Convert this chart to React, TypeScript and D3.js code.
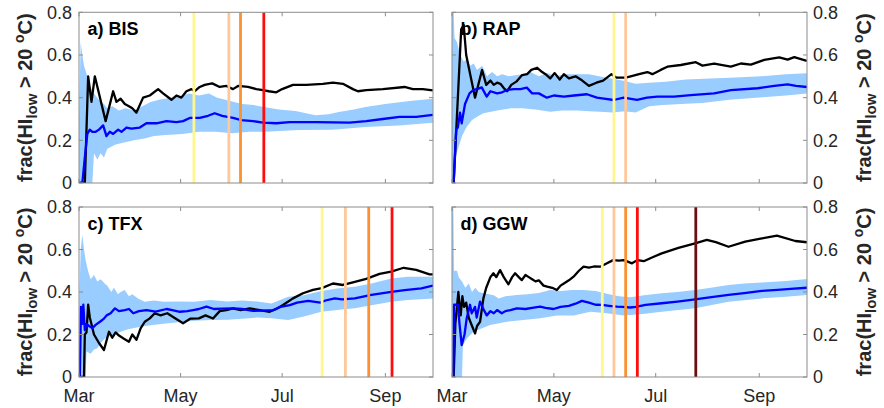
import React from 'react';
import * as d3 from 'd3';

type P = [number, number];

// ---- axis / labels ----
const monthLabels = ['Mar', 'May', 'Jul', 'Sep'];
const monthDays = [0, 61, 122, 184]; // days since 1 Mar
const yTicks = [0, 0.2, 0.4, 0.6, 0.8];
const yTickLabels = ['0', '0.2', '0.4', '0.6', '0.8'];
const panelTitles = ['a) BIS', 'b) RAP', 'c) TFX', 'd) GGW'];
const markerColors = ['#fff68f', '#ffc89b', '#fb9130', '#ff0d0d', '#6b1010'];

// ---- a) BIS ----
const bisObs: P[] = [[0,0],[3.5,0],[5.5,0.50],[7.5,0.38],[9.5,0.50],[16,0.29],[20.5,0.43],[22.5,0.38],[25,0.395],[27.5,0.37],[30,0.36],[32,0.35],[34.5,0.33],[38.5,0.40],[42.5,0.41],[47.5,0.44],[50.5,0.42],[55.5,0.39],[58.5,0.41],[61.5,0.40],[64.5,0.43],[67.5,0.44],[69.5,0.43],[72.5,0.45],[75.5,0.46],[80,0.467],[84.5,0.45],[88.5,0.455],[92.5,0.44],[95.5,0.455],[101.5,0.45],[106.5,0.44],[110.5,0.435],[114,0.43],[118.5,0.425],[122,0.44],[128.5,0.46],[136.5,0.46],[146.5,0.465],[152.5,0.47],[158.5,0.465],[164.5,0.44],[167.5,0.43],[172.5,0.435],[182.5,0.44],[195.5,0.45],[200.5,0.44],[206.5,0.44],[212.5,0.434]];
const bisMean: P[] = [[0,0],[2,0],[3.5,0.12],[5,0.23],[6.5,0.25],[8,0.24],[10,0.24],[12,0.25],[14.5,0.27],[16.5,0.22],[18.5,0.24],[20.5,0.23],[23.5,0.25],[25.5,0.24],[28.5,0.26],[31.5,0.255],[36.5,0.26],[40.5,0.28],[46.5,0.28],[52.5,0.29],[58.5,0.285],[62.5,0.29],[66.5,0.305],[72.5,0.305],[77.5,0.315],[81.5,0.327],[86,0.315],[92.5,0.305],[97.5,0.295],[104.5,0.29],[110.5,0.283],[118.5,0.28],[126.5,0.285],[142.5,0.285],[162.5,0.283],[172.5,0.29],[182.5,0.3],[192.5,0.31],[202.5,0.31],[212.5,0.319]];
const bisHi: P[] = [[0,0.3],[1,0.66],[2,0.6],[3,0.55],[5,0.5],[7,0.45],[9,0.42],[11,0.40],[13,0.38],[15,0.37],[17,0.35],[20,0.36],[24,0.34],[28,0.35],[33,0.34],[38,0.36],[43,0.38],[48,0.39],[55,0.40],[62,0.41],[66,0.42],[72,0.41],[78,0.42],[83,0.40],[88,0.39],[93,0.38],[98,0.37],[105,0.365],[112,0.355],[120,0.345],[130,0.338],[142,0.318],[150,0.322],[156,0.333],[165,0.345],[172,0.356],[185,0.372],[200,0.385],[212.5,0.395]];
const bisLo: P[] = [[0,0],[8,0],[9,0.14],[11,0.11],[13,0.14],[15,0.12],[17,0.16],[22,0.18],[27,0.19],[33,0.2],[40,0.21],[45,0.22],[52,0.225],[62,0.23],[72,0.24],[82,0.24],[92,0.233],[102,0.24],[112,0.24],[132,0.248],[152,0.25],[172,0.262],[192,0.27],[212.5,0.282]];
const bisMarkers = [69, 90, 97, 111];

// ---- b) RAP ----
const rapObs: P[] = [[0,0],[1,0],[5.5,0.72],[7,0.74],[8.5,0.6],[13.8,0.40],[18,0.53],[20.5,0.46],[23,0.48],[25,0.46],[27,0.47],[29,0.465],[31,0.445],[33,0.43],[35.5,0.46],[38.5,0.475],[42,0.506],[45,0.51],[47.5,0.53],[51,0.54],[54,0.52],[56,0.51],[58.8,0.49],[61.5,0.515],[64.5,0.485],[67,0.51],[70,0.49],[74,0.50],[78,0.48],[82,0.455],[86.5,0.47],[90.5,0.48],[95.5,0.51],[98.5,0.494],[104,0.494],[107,0.50],[112,0.51],[117,0.52],[120,0.51],[125,0.53],[129,0.545],[137,0.553],[146,0.566],[150,0.55],[157,0.56],[167,0.545],[173,0.56],[179,0.555],[187,0.577],[196,0.589],[201,0.578],[205,0.59],[212.5,0.572]];
const rapMean: P[] = [[0,0],[1,0],[2.5,0.25],[3.5,0.26],[4.8,0.33],[5.8,0.28],[7.8,0.37],[10.5,0.42],[12.8,0.436],[15,0.44],[17.8,0.448],[20.8,0.405],[23,0.43],[27,0.42],[30,0.425],[33,0.436],[37,0.44],[41,0.44],[44.8,0.447],[48,0.42],[52,0.42],[56.8,0.40],[61,0.41],[67,0.405],[73,0.41],[80.8,0.416],[86.8,0.40],[91,0.395],[96.8,0.389],[102.8,0.40],[110.8,0.39],[116.8,0.40],[123,0.405],[133,0.405],[143,0.412],[157,0.42],[167,0.435],[183,0.444],[193,0.455],[201,0.4625],[206,0.455],[212.5,0.45]];
const rapHi: P[] = [[0,0.8],[1,0.8],[1.5,0.68],[3,0.66],[5,0.6],[7,0.57],[9,0.58],[11,0.55],[13,0.56],[15,0.53],[18,0.55],[21,0.5],[24,0.52],[27,0.5],[30,0.51],[34,0.5],[38,0.505],[42,0.51],[47,0.52],[52,0.5],[57,0.515],[62,0.5],[68,0.51],[75,0.51],[82,0.51],[88,0.5],[95,0.49],[102,0.48],[110,0.465],[118,0.47],[128,0.475],[140,0.485],[155,0.49],[170,0.495],[185,0.5],[200,0.51],[212.5,0.514]];
const rapLo: P[] = [[0,0],[1.2,0],[2,0.12],[4,0.17],[6,0.22],[8.8,0.264],[12,0.295],[15,0.31],[18.8,0.327],[24,0.335],[28.8,0.342],[35,0.35],[42,0.35],[50,0.345],[58.8,0.334],[66,0.34],[75,0.34],[82,0.336],[88.8,0.334],[96,0.33],[102,0.335],[106,0.334],[110,0.33],[118,0.36],[126,0.366],[140,0.372],[150,0.375],[166,0.39],[186,0.402],[200,0.41],[212.5,0.42]];
const rapMarkers = [97, 104];

// ---- c) TFX ----
const tfxObs: P[] = [[0,0],[3,0],[3.5,0.2],[4.5,0.21],[5.5,0.34],[6.5,0.28],[9,0.2],[12,0.16],[15,0.127],[18,0.213],[20,0.185],[22,0.21],[24,0.195],[27,0.18],[30,0.166],[32,0.2],[34.5,0.175],[37,0.229],[39.5,0.26],[42.5,0.276],[45.5,0.30],[49,0.29],[53,0.30],[57,0.28],[62.5,0.253],[67,0.275],[72,0.276],[76,0.29],[80.5,0.275],[84.5,0.31],[88.5,0.315],[92.5,0.323],[97,0.315],[102.5,0.323],[108.5,0.315],[114.5,0.307],[118.5,0.32],[122.5,0.339],[128.5,0.37],[134.5,0.394],[140.5,0.41],[145.8,0.418],[152.5,0.44],[158.5,0.433],[164.5,0.445],[172.5,0.462],[180.5,0.485],[187.5,0.496],[195,0.514],[202.5,0.504],[210.5,0.483],[212.5,0.483]];
const tfxMean: P[] = [[0,0],[0.5,0],[1.2,0.33],[2,0.25],[2.6,0.34],[3.5,0.22],[4.5,0.25],[6,0.24],[8,0.23],[10,0.245],[12.6,0.26],[15,0.275],[16.6,0.29],[19,0.30],[21.6,0.323],[24,0.31],[27.5,0.315],[30,0.32],[32.6,0.30],[36,0.31],[40.6,0.315],[46,0.308],[52.6,0.32],[56,0.315],[60.6,0.307],[65,0.31],[68.6,0.315],[72,0.32],[76.6,0.331],[81,0.32],[86,0.322],[92.6,0.323],[98,0.32],[104.6,0.311],[110,0.312],[116.6,0.315],[121,0.33],[126.6,0.338],[131,0.35],[137.6,0.358],[145,0.35],[148,0.36],[153.6,0.37],[158,0.365],[165.6,0.37],[175.6,0.386],[187.6,0.401],[195.6,0.409],[205.6,0.417],[212.6,0.43]];
const tfxHi: P[] = [[0,0.3],[1,0.6],[2,0.668],[3,0.6],[4,0.55],[5.4,0.5],[7,0.46],[9,0.48],[11,0.45],[13,0.46],[15.4,0.44],[17,0.43],[19.4,0.40],[21,0.42],[23.4,0.39],[25,0.4],[27.4,0.41],[30,0.38],[32,0.39],[35.4,0.37],[39.4,0.354],[45,0.36],[51,0.354],[60,0.355],[69,0.354],[79,0.362],[89,0.355],[98,0.36],[107,0.355],[115.6,0.346],[125.6,0.378],[135,0.385],[145.6,0.405],[155,0.417],[165.6,0.425],[175.6,0.44],[187.6,0.464],[197.6,0.472],[212.6,0.472]];
const tfxLo: P[] = [[0,0],[4,0],[4.5,0.12],[7,0.11],[9,0.13],[11,0.135],[13,0.16],[15.4,0.18],[19.4,0.195],[24,0.21],[29.4,0.225],[39.4,0.24],[49.4,0.25],[59.4,0.258],[69.4,0.265],[79.4,0.268],[89.4,0.27],[100,0.275],[107.4,0.28],[115.6,0.276],[125.6,0.268],[135,0.285],[145.6,0.307],[155,0.315],[165.6,0.323],[175.6,0.338],[187.6,0.354],[197.6,0.362],[212.6,0.37]];
const tfxMarkers = [146, 160, 174, 188];

// ---- d) GGW ----
const ggwObs: P[] = [[0,0],[1,0],[2,0.25],[3.8,0.40],[5.2,0.29],[6.2,0.38],[7.2,0.33],[8.5,0.35],[10,0.28],[12,0.24],[13.8,0.205],[15,0.24],[16.8,0.26],[18.8,0.37],[20.5,0.42],[23,0.47],[24.8,0.488],[26.5,0.47],[28.8,0.503],[31,0.47],[33.8,0.436],[36,0.47],[37.8,0.488],[40,0.47],[41.8,0.456],[44,0.48],[46,0.47],[48,0.46],[50,0.45],[52,0.455],[54.8,0.43],[57,0.425],[60,0.42],[62.8,0.409],[65,0.43],[67,0.44],[70,0.455],[72.8,0.472],[76,0.5],[78.8,0.519],[82,0.515],[85,0.52],[88.8,0.519],[92.8,0.535],[96.5,0.55],[100,0.548],[103,0.55],[107.8,0.535],[111,0.55],[114.8,0.545],[120.8,0.566],[125.6,0.582],[135.6,0.608],[145.6,0.629],[152.6,0.645],[158,0.635],[165.6,0.613],[175.6,0.637],[185.6,0.652],[194.6,0.665],[205.6,0.64],[212.6,0.634]];
const ggwMean: P[] = [[0,0],[0.8,0],[1.2,0.34],[3.5,0.34],[4.5,0.25],[5.8,0.15],[7.5,0.20],[8.8,0.276],[10.8,0.34],[11.8,0.30],[13.8,0.33],[14.8,0.28],[16.8,0.355],[18.8,0.32],[20.8,0.29],[23,0.31],[25,0.30],[27,0.315],[29.8,0.30],[32,0.31],[35,0.315],[38.8,0.323],[44,0.32],[48,0.325],[52.8,0.331],[56,0.325],[60.8,0.32],[65,0.33],[70,0.335],[74,0.345],[77.8,0.358],[82,0.35],[86,0.34],[90,0.339],[94,0.335],[98.8,0.331],[102,0.33],[106.8,0.327],[110,0.33],[116,0.339],[125.6,0.347],[135,0.355],[145.6,0.365],[152,0.372],[165.6,0.386],[175,0.395],[185.6,0.405],[195,0.41],[202.8,0.415],[212.6,0.42]];
const ggwHi: P[] = [[0,0.8],[0.8,0.8],[1.2,0.5],[3,0.5],[4,0.47],[6,0.45],[8,0.42],[10,0.44],[12,0.40],[14,0.42],[16,0.40],[18.8,0.394],[22,0.39],[25,0.385],[28,0.37],[32,0.38],[38.8,0.386],[45,0.39],[52,0.395],[58.8,0.41],[65,0.405],[72,0.41],[78.8,0.41],[86,0.405],[94,0.39],[100,0.38],[106.8,0.375],[115,0.385],[125.6,0.394],[135,0.40],[145.6,0.41],[155,0.42],[165.6,0.433],[175,0.44],[185.6,0.445],[200,0.452],[212.6,0.461]];
const ggwLo: P[] = [[0,0],[6,0],[6.5,0.15],[8.8,0.18],[12.8,0.213],[22.8,0.245],[32.8,0.26],[42.8,0.268],[52.8,0.276],[62.8,0.29],[72.8,0.29],[82.8,0.307],[92.8,0.30],[102.8,0.29],[112.8,0.295],[125.6,0.307],[145.6,0.323],[165.6,0.354],[185.6,0.37],[200,0.378],[212.6,0.386]];
const ggwMarkers = [90, 97, 104, 111, 146];

const FONT = "'Liberation Sans', Arial, Helvetica, sans-serif";
const AX = '#262626';

type PanelDef = {
  id: string; title: string; obs: P[]; mean: P[]; lo: P[]; hi: P[]; markers: number[];
  left: number; right: number; top: number; bottom: number; side: 'left' | 'right'; xLabels: boolean;
};

const panels: PanelDef[] = [
  { id: 'a', title: panelTitles[0], obs: bisObs, mean: bisMean, lo: bisLo, hi: bisHi, markers: bisMarkers, left: 79, right: 433, top: 12.3, bottom: 183, side: 'left', xLabels: false },
  { id: 'b', title: panelTitles[1], obs: rapObs, mean: rapMean, lo: rapLo, hi: rapHi, markers: rapMarkers, left: 452, right: 807, top: 12.3, bottom: 183, side: 'right', xLabels: false },
  { id: 'c', title: panelTitles[2], obs: tfxObs, mean: tfxMean, lo: tfxLo, hi: tfxHi, markers: tfxMarkers, left: 79, right: 433, top: 207, bottom: 377, side: 'left', xLabels: true },
  { id: 'd', title: panelTitles[3], obs: ggwObs, mean: ggwMean, lo: ggwLo, hi: ggwHi, markers: ggwMarkers, left: 452, right: 807, top: 207, bottom: 377, side: 'right', xLabels: true },
];

function YLabel({ x, cy }: { x: number; cy: number }) {
  return (
    <text transform={`translate(${x},${cy}) rotate(-90)`} textAnchor="middle" fontFamily={FONT}
      fontWeight="bold" fontSize={20} fill={AX}>
      frac(HI<tspan dy={5} fontSize={15}>low</tspan><tspan dy={-5}>{' > 20 '}</tspan>
      <tspan dy={-8} fontSize={14}>o</tspan><tspan dy={8}>C)</tspan>
    </text>
  );
}

function Panel({ p }: { p: PanelDef }) {
  const x = d3.scaleLinear().domain([0, 212.6]).range([p.left, p.right]);
  const y = d3.scaleLinear().domain([0, 0.8]).range([p.bottom, p.top]);
  const line = d3.line<P>().x(d => x(d[0])).y(d => y(d[1]));
  const bandPath = line([...p.hi, ...p.lo.slice().reverse()]) + 'Z';
  const tl = 4;
  const clip = `clip-${p.id}`;
  return (
    <g>
      <defs>
        <clipPath id={clip}>
          <rect x={p.left} y={p.top} width={p.right - p.left} height={p.bottom - p.top} />
        </clipPath>
      </defs>
      <text x={p.left + 8.5} y={p.top + 22.5} fontFamily={FONT} fontWeight="bold" fontSize={18} fill="#000">{p.title}</text>
      <g clipPath={`url(#${clip})`}>
        <path d={bandPath} fill="#99ccff" stroke="none" />
        <path d={line(p.obs) || ''} fill="none" stroke="#000" strokeWidth={2.3} strokeLinejoin="round" />
        <path d={line(p.mean) || ''} fill="none" stroke="#0000ff" strokeWidth={2.3} strokeLinejoin="round" />
        {p.markers.map((m, i) => (
          <line key={i} x1={x(m)} x2={x(m)} y1={p.top} y2={p.bottom} stroke={markerColors[i]} strokeWidth={2.8} />
        ))}
      </g>
      <rect x={p.left} y={p.top} width={p.right - p.left} height={p.bottom - p.top} fill="none" stroke="#8c8c8c" strokeWidth={1} />
      {yTicks.map((t, i) => (
        <g key={'y' + i}>
          <line x1={p.left} x2={p.left + tl} y1={y(t)} y2={y(t)} stroke="#8c8c8c" />
          <line x1={p.right} x2={p.right - tl} y1={y(t)} y2={y(t)} stroke="#8c8c8c" />
          {p.side === 'left' ? (
            <text x={p.left - 7} y={y(t)} dy="0.36em" textAnchor="end" fontFamily={FONT} fontSize={18} fill={AX}>{yTickLabels[i]}</text>
          ) : (
            <text x={p.right + 6} y={y(t)} dy="0.36em" textAnchor="start" fontFamily={FONT} fontSize={18} fill={AX}>{yTickLabels[i]}</text>
          )}
        </g>
      ))}
      {monthDays.map((d, i) => (
        <g key={'x' + i}>
          <line x1={x(d)} x2={x(d)} y1={p.bottom} y2={p.bottom - tl} stroke="#8c8c8c" />
          <line x1={x(d)} x2={x(d)} y1={p.top} y2={p.top + tl} stroke="#8c8c8c" />
          {p.xLabels && (
            <text x={x(d)} y={p.bottom + 25} textAnchor="middle" fontFamily={FONT} fontSize={18} fill={AX}>{monthLabels[i]}</text>
          )}
        </g>
      ))}
      <YLabel x={p.side === 'left' ? 32 : 871} cy={(p.top + p.bottom) / 2} />
    </g>
  );
}

export default function App() {
  return (
    <svg width={884} height={408} style={{ position: 'absolute', left: 0, top: 0, background: '#fff' }}>
      <rect x={0} y={0} width={884} height={408} fill="#fff" />
      {panels.map(p => <Panel key={p.id} p={p} />)}
    </svg>
  );
}
